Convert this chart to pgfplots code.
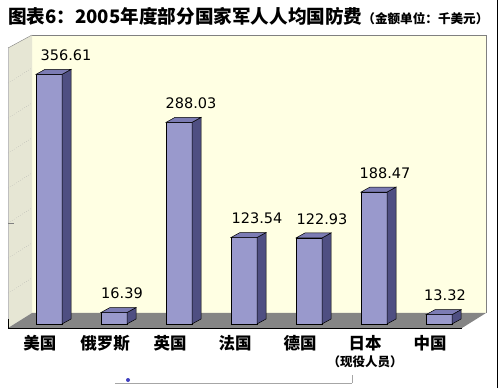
\documentclass[border=0pt]{standalone}
\usepackage{fontspec}
\usepackage{pgfplots}
\pgfplotsset{compat=1.18}
\usepackage{pgfplotstable}
\newfontfamily\cjk{Noto Sans CJK SC}
\newfontfamily\lab{DejaVu Sans}
\definecolor{barfront}{HTML}{9999CC}
\definecolor{barside}{HTML}{4F4F82}
\definecolor{bartop}{HTML}{7C7CB4}
\definecolor{wallback}{HTML}{FFFFE3}
\definecolor{wallleft}{HTML}{E6E6D4}
\definecolor{floorc}{HTML}{858585}

\pgfplotstableread{
x val lbl dx
0 356.61 356.61 17
1 16.39 16.39 8
2 288.03 288.03 12
3 123.54 123.54 13
4 122.93 122.93 13
5 188.47 188.47 11
6 13.32 13.32 6
}\datatab

\pgfdeclareplotmark{prism}{%
  \pgfmathsetmacro\hh{0.7*\rawy}%
  \pgfsetlinewidth{0.5pt}%
  \pgfsetstrokecolor{black}%
  \pgfpathmoveto{\pgfqpoint{13pt}{0pt}}%
  \pgfpathlineto{\pgfqpoint{22pt}{5pt}}%
  \pgfpathlineto{\pgfpoint{22pt}{5pt-\hh pt}}%
  \pgfpathlineto{\pgfpoint{13pt}{-\hh pt}}%
  \pgfpathclose
  \pgfsetfillcolor{barside}%
  \pgfusepath{fill,stroke}%
  \pgfpathmoveto{\pgfqpoint{-13pt}{0pt}}%
  \pgfpathlineto{\pgfqpoint{13pt}{0pt}}%
  \pgfpathlineto{\pgfqpoint{22pt}{5pt}}%
  \pgfpathlineto{\pgfqpoint{-4pt}{5pt}}%
  \pgfpathclose
  \pgfsetfillcolor{bartop}%
  \pgfusepath{fill,stroke}%
}

\begin{document}
\begin{tikzpicture}
\useasboundingbox (0pt,0pt) rectangle (500pt,388pt);
% back wall
\fill[wallback] (32pt,75pt) rectangle (486pt,353pt);
\draw[gray] (32pt,353pt) -- (486pt,353pt) -- (486pt,75pt);
% left wall
\fill[wallleft] (8pt,60pt) -- (32pt,75pt) -- (32pt,353pt) -- (8pt,340pt) -- cycle;
\draw[gray] (8pt,340pt) -- (32pt,353pt);
\draw[gray!50] (8pt,60pt) -- (8pt,340pt);
\foreach \v in {50,100,...,350} {
  \draw[gray!70, dotted] (8pt,60pt+0.7pt*\v) -- (32pt,75pt+0.7pt*\v);
}
\draw[gray] (8pt,165pt) -- (14pt,165pt);
% floor
\fill[floorc] (8pt,60pt) -- (462pt,60pt) -- (486pt,75pt) -- (32pt,75pt) -- cycle;
\draw[black] (8pt,69pt) -- (8pt,60pt) -- (462pt,60pt);

\begin{axis}[
  at={(10pt,64pt)}, anchor=south west,
  x=65pt, y=0.7pt,
  xmin=-0.6, xmax=6.6, ymin=0, ymax=400,
  axis line style={draw=none},
  ytick=\empty,
  xtick={0,1,2,3,4,5,6},
  major tick length=0pt,
  xticklabels={美国,俄罗斯,英国,法国,德国,{日本\\[-1pt]{\fontsize{12.5}{13}\selectfont （现役人员）}},中国},
  xticklabel style={font=\cjk\bfseries\fontsize{16.5}{18}\selectfont, xshift=-9pt, align=center, anchor=north, inner sep=0pt, yshift=-11pt},
  clip=false,
]
\addplot[ybar, bar width=26pt, bar shift=0pt, fill=barfront, draw=black, line width=0.5pt,
  nodes near coords, point meta=explicit symbolic,
  visualization depends on={\thisrow{dx}\as\dx},
  every node near coord/.append style={font=\lab\fontsize{14.5}{15}\selectfont, anchor=center, xshift=\dx pt, yshift=19pt, text=black}]
  table[x=x, y=val, meta=lbl] {\datatab};
\addplot[only marks, mark=prism, visualization depends on={\thisrow{val}\as\rawy}]
  table[x=x, y=val] {\datatab};
\end{axis}

% title
\node[anchor=base west, inner sep=0pt] at (8pt,364pt) {\cjk\bfseries{\fontsize{18.6}{20}\selectfont 图表6：2005年度部分国家军人人均国防费}{\fontsize{12.6}{14}\selectfont （金额单位：千美元）}};
% footer
\draw[gray!70] (115pt,5pt) -- (352pt,5pt);
\draw[gray!70] (352pt,5pt) -- (352pt,13pt);
\fill[blue!50!gray] (128pt,8pt) circle (2pt);
% right border
\draw[black, line width=1pt] (497.5pt,0pt) -- (497.5pt,388pt);
\end{tikzpicture}
\end{document}
